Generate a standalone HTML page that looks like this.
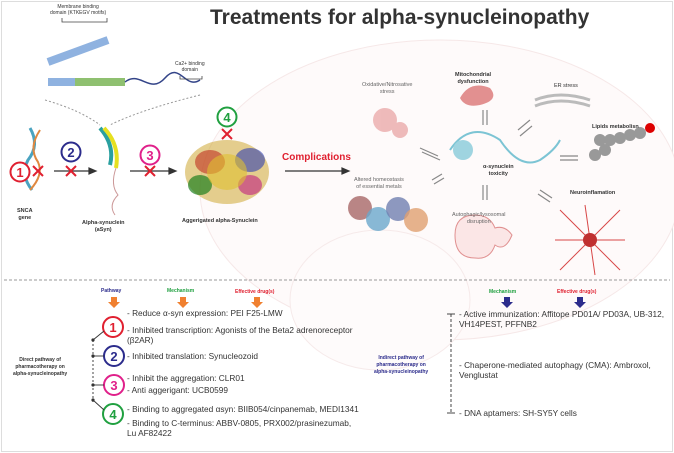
<!DOCTYPE html>
<html><head><meta charset="utf-8"><style>
body{margin:0;width:674px;height:453px;overflow:hidden;background:#fff;font-family:"Liberation Sans",sans-serif}
.t{position:absolute;white-space:nowrap;color:#333}
.b{font-weight:bold}
.s{font-size:8.3px;color:#333}
</style></head><body>
<svg width="674" height="453" style="position:absolute;left:0;top:0" font-family="Liberation Sans, sans-serif">
<rect x="1.5" y="1.5" width="671" height="450" fill="none" stroke="#ddd"/>
<ellipse cx="440" cy="190" rx="240" ry="150" fill="#fefafa" stroke="#f6e8e8"/>
<ellipse cx="380" cy="300" rx="90" ry="70" fill="#fefbfb" stroke="#f6eaea"/>
<line x1="4" y1="280" x2="670" y2="280" stroke="#999" stroke-dasharray="3,2"/>
<path d="M48 62 L108 40" stroke="#8fb2e0" stroke-width="8"/>
<path d="M48 82 L75 82" stroke="#8fb2e0" stroke-width="8"/>
<path d="M75 82 L125 82" stroke="#8fc070" stroke-width="8"/>
<path d="M125 82 C140 70,150 95,165 78 S185 90,200 80" stroke="#334488" fill="none" stroke-width="1.5"/>
<path d="M62 18 L62 22 L107 22 L107 18 M180 76 L180 79 L202 79 L202 76" stroke="#444" fill="none" stroke-width="0.8"/>
<path d="M45 100 Q80 110 100 125 M200 95 Q140 110 110 125" stroke="#999" stroke-dasharray="2,2" fill="none"/>
<path d="M100 128 Q115 145 110 165" stroke="#2aa0a0" stroke-width="4" fill="none"/>
<path d="M104 128 Q120 145 116 168" stroke="#e6e020" stroke-width="4" fill="none"/>
<path d="M116 168 Q110 185 118 195 Q108 205 115 215" stroke="#c99" fill="none"/>
<path d="M30 128 Q40 145 28 160 Q20 175 32 190" stroke="#4aa3c0" stroke-width="3" fill="none"/>
<path d="M40 130 Q28 148 38 162 Q44 175 30 190" stroke="#e08840" stroke-width="2" fill="none"/>
<ellipse cx="227" cy="172" rx="42" ry="32" fill="#c9a020" opacity="0.5"/>
<ellipse cx="210" cy="162" rx="15" ry="12" fill="#c03020" opacity="0.6"/>
<ellipse cx="250" cy="160" rx="15" ry="12" fill="#3040b0" opacity="0.6"/>
<ellipse cx="200" cy="185" rx="12" ry="10" fill="#208020" opacity="0.7"/>
<ellipse cx="250" cy="185" rx="12" ry="10" fill="#c02080" opacity="0.6"/>
<ellipse cx="227" cy="172" rx="20" ry="18" fill="#e0c030" opacity="0.6"/>
<g stroke="#333" stroke-width="1.2" fill="#333">
<line x1="54" y1="171" x2="90" y2="171"/><path d="M96 171 L89 168 L89 174Z"/>
<line x1="130" y1="171" x2="170" y2="171"/><path d="M176 171 L169 168 L169 174Z"/>
<line x1="285" y1="171" x2="343" y2="171"/><path d="M349 171 L342 168 L342 174Z"/>
</g>
<g fill="#fff" stroke-width="2" font-weight="bold" font-size="13" text-anchor="middle">
<circle cx="20" cy="172" r="9.5" stroke="#e02030"/><text x="20" y="177" fill="#e02030" stroke="none">1</text>
<circle cx="71" cy="152" r="9.5" stroke="#2c2c8c"/><text x="71" y="157" fill="#2c2c8c" stroke="none">2</text>
<circle cx="150" cy="155" r="9.5" stroke="#e0208a"/><text x="150" y="160" fill="#e0208a" stroke="none">3</text>
<circle cx="227" cy="117" r="9.5" stroke="#20a040"/><text x="227" y="122" fill="#20a040" stroke="none">4</text>
<circle cx="113" cy="327" r="10" stroke="#e02030"/><text x="113" y="332" fill="#e02030" stroke="none">1</text>
<circle cx="114" cy="356" r="10" stroke="#2c2c8c"/><text x="114" y="361" fill="#2c2c8c" stroke="none">2</text>
<circle cx="114" cy="385" r="10" stroke="#e0208a"/><text x="114" y="390" fill="#e0208a" stroke="none">3</text>
<circle cx="113" cy="414" r="10" stroke="#20a040"/><text x="113" y="419" fill="#20a040" stroke="none">4</text>
</g>
<g stroke="#e02030" stroke-width="2">
<path d="M33 166 L43 176 M43 166 L33 176"/><path d="M66 166 L76 176 M76 166 L66 176"/>
<path d="M145 166 L155 176 M155 166 L145 176"/><path d="M222 129 L232 139 M232 129 L222 139"/>
</g>
<g stroke="#333" stroke-width="0.9">
<line x1="93" y1="340" x2="93" y2="402" stroke-dasharray="2,2"/>
<line x1="93" y1="340" x2="104" y2="331"/><line x1="93" y1="356" x2="104" y2="356"/>
<line x1="93" y1="385" x2="104" y2="385"/><line x1="93" y1="400" x2="104" y2="410"/>
<line x1="451" y1="314" x2="451" y2="413" stroke-dasharray="3,2"/>
<line x1="447" y1="314" x2="455" y2="314"/><line x1="447" y1="413" x2="455" y2="413"/>
</g>
<g fill="#333"><circle cx="93" cy="340" r="1.6"/><circle cx="93" cy="356" r="1.6"/><circle cx="93" cy="385" r="1.6"/><circle cx="93" cy="400" r="1.6"/></g>
<g fill="#f08030"><path d="M111 297h6v5h3l-6 6-6-6h3z"/><path d="M180 297h6v5h3l-6 6-6-6h3z"/><path d="M254 297h6v5h3l-6 6-6-6h3z"/></g>
<g fill="#2c2c8c"><path d="M504 297h6v5h3l-6 6-6-6h3z"/><path d="M577 297h6v5h3l-6 6-6-6h3z"/></g>
<g fill="#e8a0a0" opacity="0.7"><circle cx="385" cy="120" r="12"/><circle cx="400" cy="130" r="8"/></g>
<path d="M460 98 Q470 80 490 88 Q500 100 480 105 Q465 108 460 98Z" fill="#e29090"/>
<path d="M535 100 Q560 90 590 100 M535 106 Q560 96 590 106" stroke="#bbb" stroke-width="3" fill="none"/>
<path d="M450 150 Q470 120 500 140 Q520 170 540 160 Q555 150 560 140" stroke="#7cc4d4" stroke-width="2" fill="none"/>
<circle cx="463" cy="150" r="10" fill="#9fd4e0"/>
<g fill="#999"><circle cx="600" cy="140" r="6"/><circle cx="610" cy="140" r="6"/><circle cx="620" cy="138" r="6"/><circle cx="630" cy="135" r="6"/><circle cx="640" cy="133" r="6"/><circle cx="605" cy="150" r="6"/><circle cx="595" cy="155" r="6"/></g>
<circle cx="650" cy="128" r="5" fill="#d00"/>
<g stroke="#d84848" stroke-width="1"><path d="M590 240 L560 210 M590 240 L620 210 M590 240 L560 270 M590 240 L620 270 M590 240 L585 205 M590 240 L595 275 M590 240 L555 240 M590 240 L625 240"/></g>
<circle cx="590" cy="240" r="7" fill="#c03030"/>
<circle cx="360" cy="208" r="12" fill="#a86868" opacity="0.8"/><circle cx="378" cy="219" r="12" fill="#6aa8cc" opacity="0.8"/><circle cx="398" cy="209" r="12" fill="#7080b0" opacity="0.8"/><circle cx="416" cy="220" r="12" fill="#e0a070" opacity="0.8"/>
<path d="M455 235 Q455 215 475 215 Q490 215 495 228 Q505 225 512 235 Q505 252 495 245 Q490 260 475 258 Q455 258 455 235Z" fill="#fbe6e6" stroke="#e09090"/>
<g stroke="#888" stroke-width="1.2"><path d="M420 148 L438 156 M422 152 L440 160"/><path d="M432 180 L442 174 M434 184 L444 178"/><path d="M483 110 L483 125 M487 110 L487 125"/><path d="M483 185 L483 200 M487 185 L487 200"/><path d="M518 130 L530 120 M520 136 L532 126"/><path d="M560 156 L578 156 M560 160 L578 160"/><path d="M540 190 L552 198 M538 194 L550 202"/></g>
</svg>
<div class="t b" style="left:210px;top:6px;font-size:21px;color:#333">Treatments for alpha-synucleinopathy</div>
<div class="t" style="left:50px;top:4px;font-size:5px;text-align:center;line-height:6px">Membrane binding<br>domain (KTKEGV motifs)</div>
<div class="t" style="left:175px;top:61px;font-size:5px;text-align:center;line-height:6px">Ca2+ binding<br>domain</div>
<div class="t b" style="left:17px;top:208px;font-size:5.5px;text-align:center;line-height:7px">SNCA<br>gene</div>
<div class="t b" style="left:82px;top:220px;font-size:5.5px;text-align:center;line-height:7px">Alpha-synuclein<br>(aSyn)</div>
<div class="t b" style="left:182px;top:218px;font-size:5.5px">Aggerigated alpha-Synuclein</div>
<div class="t b" style="left:282px;top:152px;font-size:10px;color:#e02030">Complications</div>
<div class="t" style="left:362px;top:82px;font-size:5.5px;text-align:center;line-height:7px;color:#666">Oxidative/Nitrosative<br>stress</div>
<div class="t b" style="left:455px;top:72px;font-size:5.5px;text-align:center;line-height:7px">Mitochondrial<br>dysfunction</div>
<div class="t" style="left:554px;top:83px;font-size:5.5px">ER stress</div>
<div class="t b" style="left:592px;top:124px;font-size:5.5px">Lipids metabolisn</div>
<div class="t b" style="left:483px;top:164px;font-size:5.5px;text-align:center;line-height:7px">α-synuclein<br>toxicity</div>
<div class="t" style="left:354px;top:177px;font-size:5.5px;text-align:center;line-height:7px;color:#666">Altered homeostasis<br>of essential metals</div>
<div class="t b" style="left:570px;top:190px;font-size:5.5px">Neuroinflamation</div>
<div class="t" style="left:452px;top:212px;font-size:5.5px;text-align:center;line-height:7px;color:#666">Autophagic/lysosomal<br>disruption</div>
<div class="t b" style="left:101px;top:288px;font-size:5px;color:#2c2c8c">Pathway</div>
<div class="t b" style="left:167px;top:288px;font-size:5px;color:#20a040">Mechanism</div>
<div class="t b" style="left:235px;top:289px;font-size:5px;color:#e02030">Effective drug(s)</div>
<div class="t b" style="left:489px;top:289px;font-size:5px;color:#20a040">Mechanism</div>
<div class="t b" style="left:557px;top:289px;font-size:5px;color:#e02030">Effective drug(s)</div>
<div class="t b" style="left:13px;top:357px;font-size:5px;text-align:center;line-height:7px">Direct pathway of<br>pharmacotherapy on<br>alpha-synucleinopathy</div>
<div class="t b" style="left:374px;top:355px;font-size:5px;text-align:center;line-height:7px;color:#2c2c8c">Indirect pathway of<br>pharmacotherapy on<br>alpha-synucleinopathy</div>
<div class="t s" style="left:127px;top:308px">- Reduce α-syn expression: PEI F25-LMW</div>
<div class="t s" style="left:127px;top:325px;line-height:10px">- Inhibited transcription: Agonists of the Beta2 adrenoreceptor<br>(β2AR)</div>
<div class="t s" style="left:127px;top:351px">- Inhibited translation: Synucleozoid</div>
<div class="t s" style="left:127px;top:373px">- Inhibit the aggregation: CLR01</div>
<div class="t s" style="left:127px;top:385px">- Anti aggerigant: UCB0599</div>
<div class="t s" style="left:127px;top:404px">- Binding to aggregated αsyn: BIIB054/cinpanemab, MEDI1341</div>
<div class="t s" style="left:127px;top:418px;line-height:10px">- Binding to C-terminus: ABBV-0805, PRX002/prasinezumab,<br>Lu AF82422</div>
<div class="t s" style="left:459px;top:309px;line-height:10px">- Active immunization: Affitope PD01A/ PD03A, UB-312,<br>VH14PEST, PFFNB2</div>
<div class="t s" style="left:459px;top:360px;line-height:10px">- Chaperone-mediated autophagy (CMA): Ambroxol,<br>Venglustat</div>
<div class="t s" style="left:459px;top:408px">- DNA aptamers: SH-SY5Y cells</div>
</body></html>
